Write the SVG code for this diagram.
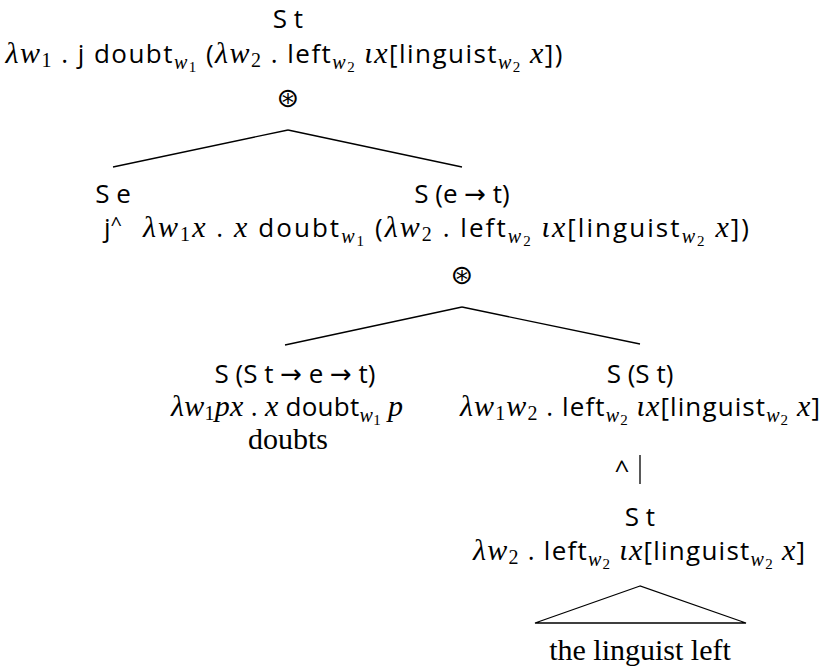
<svg xmlns="http://www.w3.org/2000/svg" width="826" height="670" viewBox="0 0 826 670">
<style>
text{font-family:"Open Sans","DejaVu Sans",sans-serif;font-size:26px;fill:#000;text-anchor:middle}
.i{font-family:"Liberation Serif",serif;font-style:italic;font-size:30px}
.r{font-family:"Liberation Serif",serif;font-style:normal}
.sb{font-size:20px}
.ssb{font-size:15px}
.w{font-family:"Liberation Serif",serif;font-size:30px}
.op{font-family:"DejaVu Sans",sans-serif;font-size:27px}
line,polygon{stroke:#000;stroke-width:1.3;fill:none}
</style>
<rect width="826" height="670" fill="#fff"/>
<g id="connectors">
<line x1="113" y1="167" x2="288" y2="130"/>
<line x1="288" y1="130" x2="462" y2="167"/>
<line x1="285" y1="345" x2="462" y2="307"/>
<line x1="462" y1="307" x2="640" y2="344"/>
<line x1="640" y1="455" x2="640" y2="484"/>
<polygon points="640,586 535,623 746,623"/>
</g>
<g id="root">
<text x="288" y="28">S t</text>
<text x="284" y="63" textLength="557"><tspan class="i">λw</tspan><tspan class="r sb" dy="4">1</tspan><tspan dy="-4"> . j doubt</tspan><tspan class="i sb" dy="6">w</tspan><tspan class="r ssb" dy="3">1</tspan><tspan dy="-9"> (</tspan><tspan class="i">λw</tspan><tspan class="r sb" dy="4">2</tspan><tspan dy="-4"> . left</tspan><tspan class="i sb" dy="6">w</tspan><tspan class="r ssb" dy="3">2</tspan><tspan dy="-9"> </tspan><tspan class="i">ιx</tspan><tspan>[linguist</tspan><tspan class="i sb" dy="6">w</tspan><tspan class="r ssb" dy="3">2</tspan><tspan dy="-9"> </tspan><tspan class="i">x</tspan><tspan>])</tspan></text>
<text class="op" x="288" y="107">⊛</text>
</g>
<g id="subject">
<text x="113" y="203">S e</text>
<text x="113" y="237">j<tspan font-size="20" dy="-6">^</tspan></text>
</g>
<g id="vp">
<text x="462" y="203">S (e → t)</text>
<text x="446" y="237" textLength="606"><tspan class="i">λw</tspan><tspan class="r sb" dy="4">1</tspan><tspan class="i" dy="-4">x</tspan><tspan> . </tspan><tspan class="i">x</tspan><tspan> doubt</tspan><tspan class="i sb" dy="6">w</tspan><tspan class="r ssb" dy="3">1</tspan><tspan dy="-9"> (</tspan><tspan class="i">λw</tspan><tspan class="r sb" dy="4">2</tspan><tspan dy="-4"> . left</tspan><tspan class="i sb" dy="6">w</tspan><tspan class="r ssb" dy="3">2</tspan><tspan dy="-9"> </tspan><tspan class="i">ιx</tspan><tspan>[linguist</tspan><tspan class="i sb" dy="6">w</tspan><tspan class="r ssb" dy="3">2</tspan><tspan dy="-9"> </tspan><tspan class="i">x</tspan><tspan>])</tspan></text>
<text class="op" x="462" y="284">⊛</text>
</g>
<g id="doubts">
<text x="295" y="383">S (S t → e → t)</text>
<text x="287" y="416" textLength="232"><tspan class="i">λw</tspan><tspan class="r sb" dy="4">1</tspan><tspan class="i" dy="-4">px</tspan><tspan> . </tspan><tspan class="i">x</tspan><tspan> doubt</tspan><tspan class="i sb" dy="6">w</tspan><tspan class="r ssb" dy="3">1</tspan><tspan dy="-9"> </tspan><tspan class="i">p</tspan></text>
<text class="w" x="288" y="449">doubts</text>
</g>
<g id="lifted">
<text x="640" y="383">S (S t)</text>
<text x="640" y="416" textLength="360"><tspan class="i">λw</tspan><tspan class="r sb" dy="4">1</tspan><tspan class="i" dy="-4">w</tspan><tspan class="r sb" dy="4">2</tspan><tspan dy="-4"> . left</tspan><tspan class="i sb" dy="6">w</tspan><tspan class="r ssb" dy="3">2</tspan><tspan dy="-9"> </tspan><tspan class="i">ιx</tspan><tspan>[linguist</tspan><tspan class="i sb" dy="6">w</tspan><tspan class="r ssb" dy="3">2</tspan><tspan dy="-9"> </tspan><tspan class="i">x</tspan><tspan>]</tspan></text>
<text x="622" y="479" font-size="18">^</text>
</g>
<g id="clause">
<text x="640" y="526">S t</text>
<text x="639" y="560" textLength="332"><tspan class="i">λw</tspan><tspan class="r sb" dy="4">2</tspan><tspan dy="-4"> . left</tspan><tspan class="i sb" dy="6">w</tspan><tspan class="r ssb" dy="3">2</tspan><tspan dy="-9"> </tspan><tspan class="i">ιx</tspan><tspan>[linguist</tspan><tspan class="i sb" dy="6">w</tspan><tspan class="r ssb" dy="3">2</tspan><tspan dy="-9"> </tspan><tspan class="i">x</tspan><tspan>]</tspan></text>
</g>
<g id="leaf">
<text class="w" x="640" y="660">the linguist left</text>
</g>
</svg>
